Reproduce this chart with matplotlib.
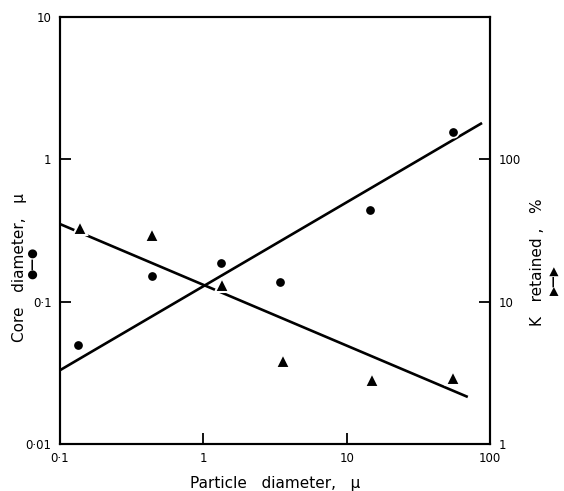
import numpy as np
import matplotlib.pyplot as plt
from matplotlib.ticker import NullLocator

# data
particle = [0.134, 0.44, 1.33, 3.43, 14.6, 55]
core = [0.0495, 0.151, 0.187, 0.137, 0.44, 1.56]

particle_k = [0.137, 0.44, 1.35, 3.6, 15, 55]
k_retained = [32.9, 29.4, 13.1, 3.8, 2.8, 2.9]

# fitted lines (end points)
core_fit_x = [0.1, 88]
core_fit_y = [0.033, 1.80]
k_fit_x = [0.1, 70]
k_fit_y = [35.1, 2.14]

x_ticks = [0.1, 1, 10, 100]
x_labels = ["0·1", "1", "10", "100"]
left_ticks = [0.01, 0.1, 1, 10]
left_labels = ["0·01", "0·1", "1", "10"]
right_ticks = [1, 10, 100]
right_labels = ["1", "10", "100"]

plt.rcParams['font.family'] = ['DejaVu Sans']

fig = plt.figure(figsize=(5.64, 4.91), dpi=100)
ax = fig.add_axes([60 / 564, 1 - 444 / 491, 430 / 564, 427 / 491])
ax2 = ax.twinx()

ax.set_xscale("log")
ax.set_yscale("log")
ax2.set_yscale("log")
ax.set_xlim(0.1, 100)
ax.set_ylim(0.01, 10)
ax2.set_ylim(1, 1000)

ax.plot(core_fit_x, core_fit_y, color="black", lw=1.9, solid_capstyle="butt")
ax2.plot(k_fit_x, k_fit_y, color="black", lw=1.9, solid_capstyle="butt")
ax.plot(particle, core, "o", color="black", ms=7.5, mec="white", mew=1.2)
ax2.plot(particle_k, k_retained, "^", color="black", ms=10, mec="white", mew=1.5)

ax.set_xticks(x_ticks, x_labels)
ax.set_yticks(left_ticks, left_labels)
ax2.set_yticks(right_ticks, right_labels)
for a in (ax, ax2):
    a.xaxis.set_minor_locator(NullLocator())
    a.yaxis.set_minor_locator(NullLocator())
    for s in a.spines.values():
        s.set_linewidth(1.5)

ax.tick_params(axis="both", direction="in", length=8, width=1.3,
               labelsize=8.5, pad=6)
ax2.tick_params(axis="y", direction="in", length=8, width=1.3,
                labelsize=8.5, pad=6)

ax.set_xlabel("Particle   diameter,   μ", fontsize=11, labelpad=8)

fig.text(20 / 564, 1 - 268 / 491, "Core   diameter,   μ", rotation=90,
         ha="center", va="center", fontsize=11)
fig.text(33 / 564, 1 - 263 / 491, "●—●", rotation=90,
         ha="center", va="center", fontsize=8.5, fontweight="bold")
fig.text(537 / 564, 1 - 262 / 491, "K   retained ,   %", rotation=90,
         ha="center", va="center", fontsize=11)
fig.text(555 / 564, 1 - 280 / 491, "▶—▶", rotation=90,
         ha="center", va="center", fontsize=8.5, fontweight="bold")

fig.savefig("out.png", dpi=100)
